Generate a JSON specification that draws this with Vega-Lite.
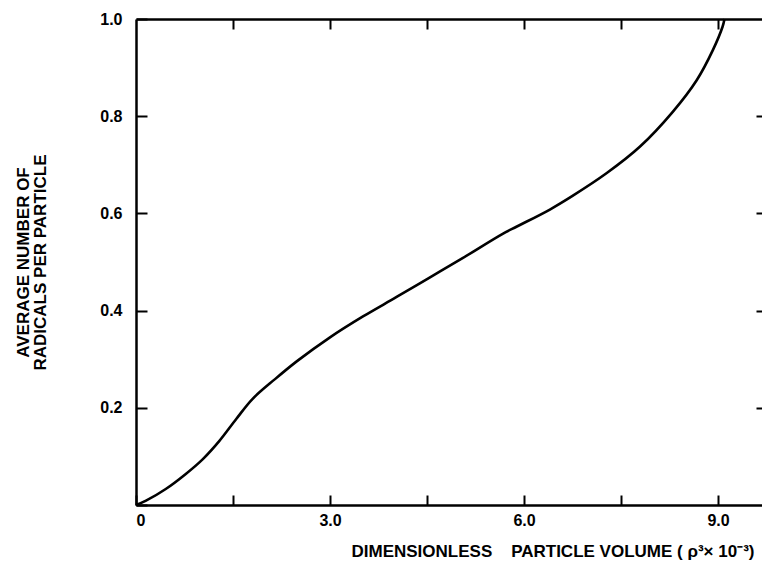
{
  "$schema": "https://vega.github.io/schema/vega-lite/v6.json",
  "width": 626,
  "height": 486,
  "autosize": {"type": "none"},
  "padding": {"left": 136, "top": 19, "right": 0, "bottom": 71},
  "background": "white",
  "config": {
    "view": {"stroke": null},
    "font": "Liberation Sans",
    "axis": {
      "domainColor": "black", "tickColor": "black", "labelColor": "black", "titleColor": "black",
      "labelFont": "Liberation Sans", "titleFont": "Liberation Sans",
      "labelFontWeight": "bold", "titleFontWeight": "bold", "grid": false
    }
  },
  "data": {"values": [
    {"v": 0.0, "r": 0.0},
    {"v": 0.155, "r": 0.009},
    {"v": 0.46, "r": 0.033},
    {"v": 0.77, "r": 0.064},
    {"v": 1.03, "r": 0.094},
    {"v": 1.29, "r": 0.132},
    {"v": 1.55, "r": 0.177},
    {"v": 1.8, "r": 0.218},
    {"v": 2.15, "r": 0.259},
    {"v": 2.49, "r": 0.296},
    {"v": 3.0, "r": 0.345},
    {"v": 3.51, "r": 0.388},
    {"v": 4.03, "r": 0.428},
    {"v": 4.54, "r": 0.468},
    {"v": 5.05, "r": 0.508},
    {"v": 5.67, "r": 0.558},
    {"v": 5.89, "r": 0.573},
    {"v": 6.4, "r": 0.608},
    {"v": 6.75, "r": 0.636},
    {"v": 7.28, "r": 0.683},
    {"v": 7.79, "r": 0.737},
    {"v": 8.3, "r": 0.809},
    {"v": 8.67, "r": 0.874},
    {"v": 8.92, "r": 0.936},
    {"v": 9.07, "r": 0.984},
    {"v": 9.1, "r": 1.0}
  ]},
  "layer": [
    {
      "mark": {"type": "line", "color": "black", "strokeWidth": 2.6, "interpolate": "catmull-rom"},
      "encoding": {
        "x": {"field": "v", "type": "quantitative",
          "scale": {"domain": [0, 9.68], "nice": false, "zero": false},
          "axis": {
            "orient": "bottom",
            "values": [0, 1.5, 3, 4.5, 6, 7.5, 9],
            "labelExpr": "datum.value == 0 ? '0' : (datum.value % 3 == 0 ? format(datum.value, '.1f') : '')",
            "labelFontSize": 16, "labelPadding": 17,
            "tickSize": -10, "tickWidth": 2, "domainWidth": 2.5,
            "title": "DIMENSIONLESS\u00a0\u00a0\u00a0\u00a0PARTICLE VOLUME ( ρ³× 10⁻³)",
            "titleFontSize": 17, "titleAnchor": "end", "titleX": 618, "titlePadding": 15
          }
        },
        "y": {"field": "r", "type": "quantitative",
          "scale": {"domain": [0, 1], "nice": false},
          "axis": {
            "orient": "left",
            "values": [0, 0.2, 0.4, 0.6, 0.8, 1.0],
            "labelExpr": "datum.value == 0 ? '' : format(datum.value, '.1f')",
            "labelFontSize": 16, "labelPadding": 25,
            "tickSize": -11, "tickWidth": 2, "domainWidth": 2.5,
            "title": ["AVERAGE NUMBER OF", "RADICALS PER PARTICLE"],
            "titleFontSize": 17, "titlePadding": 50, "titleLineHeight": 17
          }
        }
      }
    },
    {
      "mark": {"type": "line", "opacity": 0},
      "encoding": {
        "x": {"field": "v", "type": "quantitative",
          "axis": {"orient": "top", "values": [1.5, 3, 4.5, 6, 7.5, 9], "labels": false, "title": null,
            "tickSize": -10, "tickWidth": 2, "domainWidth": 2.5}
        },
        "y": {"field": "r", "type": "quantitative",
          "axis": {"orient": "right", "values": [0.2, 0.4, 0.6, 0.8], "labels": false, "title": null,
            "domain": false, "tickSize": -6, "tickWidth": 2}
        }
      }
    }
  ],
  "resolve": {"axis": {"x": "independent", "y": "independent"}}
}
